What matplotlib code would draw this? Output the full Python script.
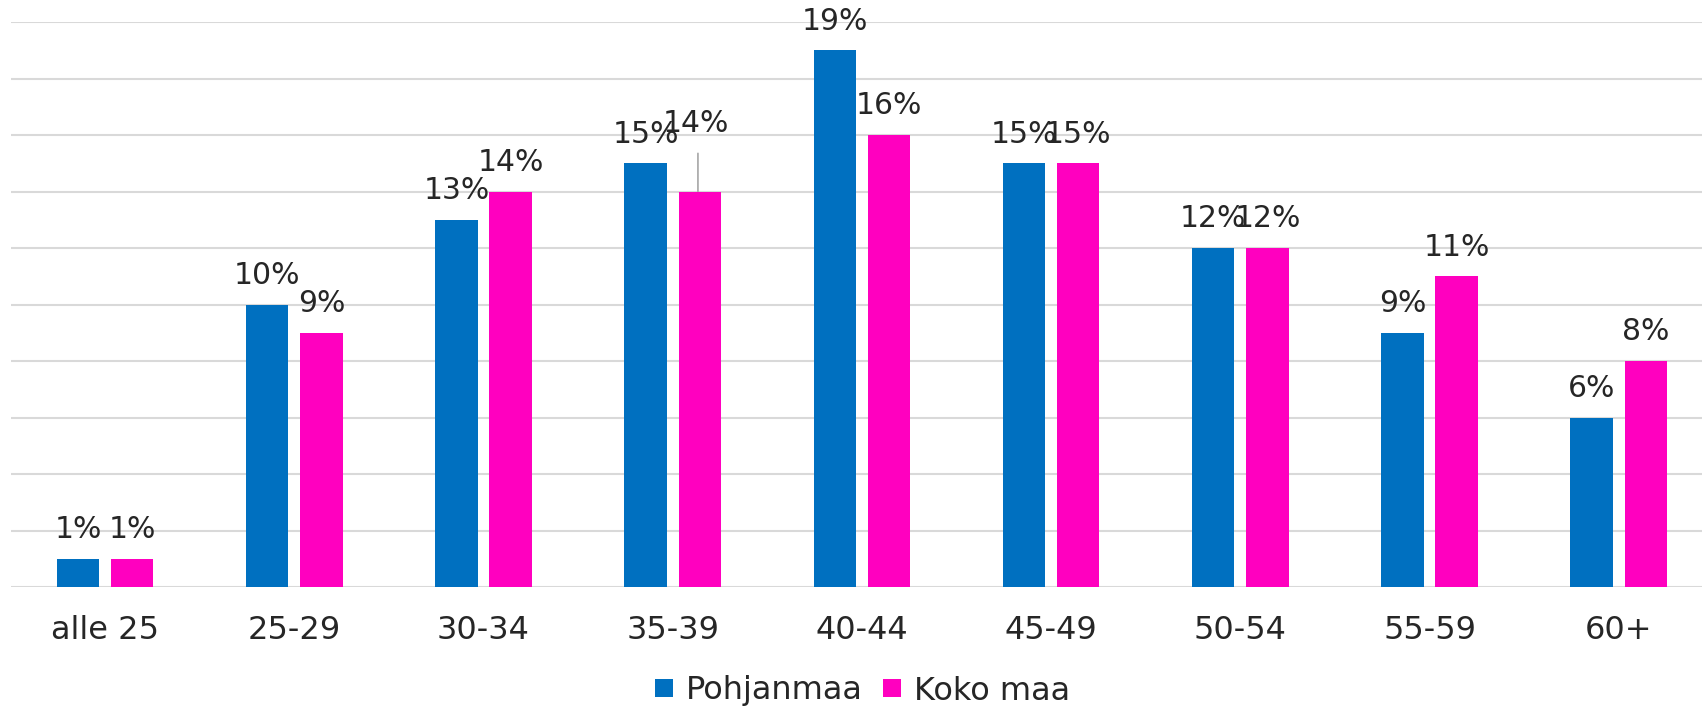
import matplotlib
matplotlib.use('Agg')
import matplotlib.pyplot as plt
from matplotlib.lines import Line2D
import numpy as np

# data
categories = ['alle 25', '25-29', '30-34', '35-39', '40-44', '45-49', '50-54', '55-59', '60+']
pohjanmaa = [1, 10, 13, 15, 19, 15, 12, 9, 6]
koko_maa = [1, 9, 14, 14, 16, 15, 12, 11, 8]
series_names = ['Pohjanmaa', 'Koko maa']

BLUE, PINK = '#0070C0', '#FF00BF'
TXT = '#262626'

plt.rcParams['font.family'] = ['DejaVu Sans']

fig = plt.figure(figsize=(17.02, 7.08), dpi=100)
ax = fig.add_axes([11/1702, 1 - 587/708, 1 - 11/1702, (587 - 22)/708])

x = np.arange(len(categories))
w, off = 0.224, 0.1435
b1 = ax.bar(x - off, pohjanmaa, w, color=BLUE, zorder=3)
b2 = ax.bar(x + off, koko_maa, w, color=PINK, zorder=3)

ax.set_ylim(0, 20)
ax.set_xlim(-0.497, 8.44)
ax.set_yticks(np.arange(0, 21, 2))
ax.yaxis.grid(True, color='#D9D9D9', linewidth=1.5, zorder=0)
ax.tick_params(axis='y', left=False, labelleft=False)
ax.tick_params(axis='x', length=0, pad=20, labelsize=23, labelcolor=TXT)
ax.set_xticks(x)
ax.set_xticklabels(categories)
for s in ax.spines.values():
    s.set_visible(False)

# data labels (overlaps are as in the original)
for bars, vals in ((b1, pohjanmaa), (b2, koko_maa)):
    for b, v in zip(bars, vals):
        cx = b.get_x() + b.get_width() / 2
        if bars is b2 and v == 14 and 2.5 < b.get_x() < 3.5:
            # moved label with leader line
            ax.annotate('', xy=(cx - 0.01, v), xytext=(cx - 0.01, v + 1.35),
                        arrowprops=dict(arrowstyle='-', color='#A6A6A6', lw=1.2,
                                        shrinkA=0, shrinkB=0), zorder=2)
            ax.text(cx - 0.02, v + 2.4, f'{v}%', ha='center', va='center',
                    fontsize=21.5, color=TXT)
            continue
        ax.annotate(f'{v}%', xy=(cx, v), xytext=(0, 21), textcoords='offset points',
                    ha='center', va='center', fontsize=21.5, color=TXT)

handles = [Line2D([], [], marker='s', linestyle='', markersize=12.5, color=c,
                  markeredgewidth=0) for c in (BLUE, PINK)]
leg = fig.legend(handles, series_names, loc='center', bbox_to_anchor=(0.506, 1 - 691/708),
                 ncol=2, frameon=False, fontsize=23, handlelength=0.7,
                 handletextpad=0.35, columnspacing=0.55)
for t in leg.get_texts():
    t.set_color(TXT)

fig.savefig('out.png', dpi=100)
